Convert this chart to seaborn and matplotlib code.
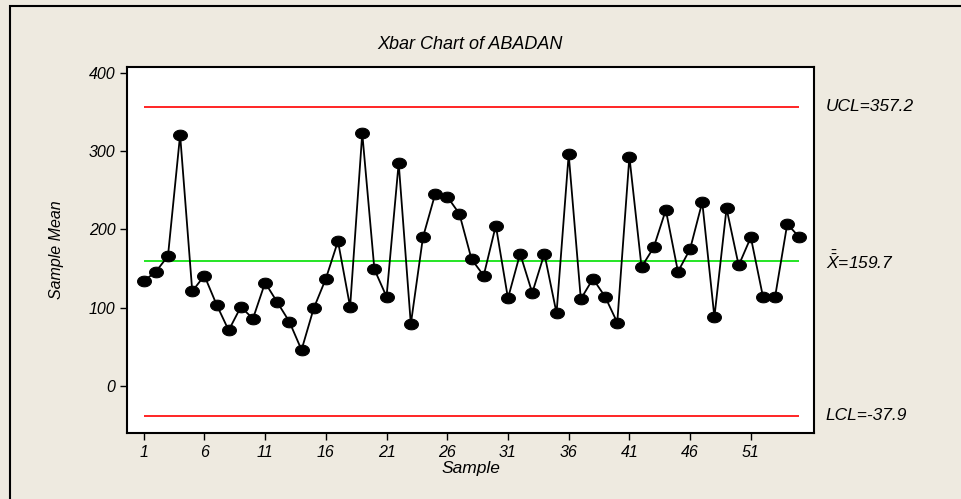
import numpy as np
import pandas as pd
import seaborn as sns
import matplotlib.pyplot as plt
from matplotlib.patches import Rectangle

# sample means
sample = list(range(1, 56))
means = [134, 146, 166, 321, 121, 141, 104, 71, 101, 86,
         132, 107, 82, 46, 99, 137, 185, 101, 323, 149,
         114, 285, 79, 190, 245, 242, 220, 162, 141, 205,
         112, 169, 119, 169, 93, 296, 111, 137, 114, 81,
         293, 152, 177, 225, 146, 175, 235, 88, 227, 154,
         190, 114, 114, 207, 190]
ucl = 357.2
center = 159.7
lcl = -37.9
xticks = [1, 6, 11, 16, 21, 26, 31, 36, 41, 46, 51]
yticks = [0, 100, 200, 300, 400]

df = pd.DataFrame({"Sample": sample, "Mean": means})

sns.set_style("white")
plt.rcParams["font.family"] = ["Liberation Sans", "DejaVu Sans"]
plt.rcParams["font.style"] = "italic"
plt.rcParams["text.color"] = "black"
plt.rcParams["axes.labelcolor"] = "black"
plt.rcParams["mathtext.fontset"] = "custom"
plt.rcParams["mathtext.it"] = "Liberation Sans:italic"
plt.rcParams["mathtext.rm"] = "Liberation Sans:italic"

bg = "#EEEAE0"
fig = plt.figure(figsize=(9.61, 4.99), dpi=100, facecolor=bg)
ax = fig.add_axes([0.1322, 0.1323, 0.7148, 0.7334])
ax.set_facecolor("white")

# outer frame (left and top edges visible)
fig.patches.append(Rectangle((10 / 961, -0.1), 1.2, 1.1 - 6 / 499,
                             transform=fig.transFigure, fill=False,
                             edgecolor="black", linewidth=1.5, zorder=0))

# control limits
ax.hlines([ucl, lcl], 1, 55, color="#FF0000", linewidth=1.2, zorder=1)
ax.hlines(center, 1, 55, color="#00E000", linewidth=1.2, zorder=1)

t = np.linspace(0, 2 * np.pi, 40)
ellipse = list(zip(1.3 * np.cos(t), np.sin(t)))
sns.lineplot(data=df, x="Sample", y="Mean", ax=ax, color="black",
             linewidth=1.3, marker=ellipse, markersize=10,
             markerfacecolor="black", markeredgecolor="black", zorder=3)

ax.set_xlim(-0.37, 56.2)
ax.set_ylim(-60.2, 407.7)
ax.set_xticks(xticks)
ax.set_yticks(yticks)
ax.tick_params(direction="out", length=5, width=1, colors="black",
               labelsize=11.5, bottom=True, left=True)
for s in ax.spines.values():
    s.set_linewidth(1.5)
    s.set_color("black")

ax.set_xlabel("Sample", fontsize=12.5, labelpad=1)
ax.set_ylabel("Sample Mean", fontsize=11.5, labelpad=18)
ax.set_title("Xbar Chart of ABADAN", fontsize=13, pad=13)

tx = ax.get_yaxis_transform()
ax.text(1.017, ucl, "UCL=357.2", transform=tx, va="center", ha="left",
        fontsize=12.5, clip_on=False)
ax.text(1.017, center, r"$\bar{\bar{X}}$=159.7", transform=tx, va="center",
        ha="left", fontsize=12.5, clip_on=False)
ax.text(1.017, lcl, "LCL=-37.9", transform=tx, va="center", ha="left",
        fontsize=12.5, clip_on=False)

fig.savefig("out.png", dpi=100, facecolor=bg)
